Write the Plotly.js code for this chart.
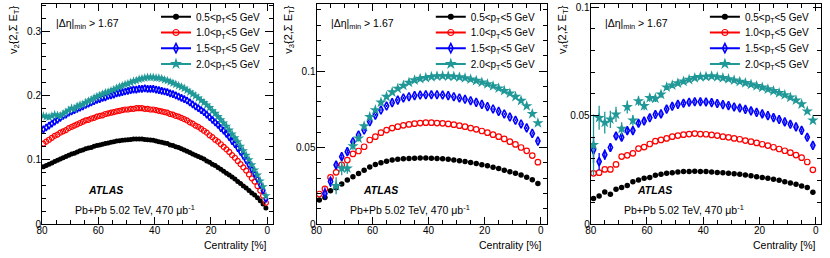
<!DOCTYPE html>
<html><head><meta charset="utf-8">
<script src="https://cdn.plot.ly/plotly-3.0.1.min.js"></script>
<style>html,body{margin:0;padding:0;background:#fff}#c{width:830px;height:258px}</style>
</head><body><div id="c"></div>
<script>
// ---------- DATA ----------
const seriesNames = ["0.5&lt;p<sub>T</sub>&lt;5 GeV","1.0&lt;p<sub>T</sub>&lt;5 GeV","1.5&lt;p<sub>T</sub>&lt;5 GeV","2.0&lt;p<sub>T</sub>&lt;5 GeV"];
// v2: 1% centrality bins
const centV2 = [79.5,78.5,77.5,76.5,75.5,74.5,73.5,72.5,71.5,70.5,69.5,68.5,67.5,66.5,65.5,64.5,63.5,62.5,61.5,60.5,
 59.5,58.5,57.5,56.5,55.5,54.5,53.5,52.5,51.5,50.5,49.5,48.5,47.5,46.5,45.5,44.5,43.5,42.5,41.5,40.5,
 39.5,38.5,37.5,36.5,35.5,34.5,33.5,32.5,31.5,30.5,29.5,28.5,27.5,26.5,25.5,24.5,23.5,22.5,21.5,20.5,
 19.5,18.5,17.5,16.5,15.5,14.5,13.5,12.5,11.5,10.5,9.5,8.5,7.5,6.5,5.5,4.5,3.5,2.5,1.5,0.5];
const v2_05 = [0.089,0.091,0.093,0.095,0.097,0.099,0.101,0.103,0.105,0.107,0.109,0.110,0.112,0.114,0.115,0.117,0.118,0.119,0.121,0.122,
 0.123,0.124,0.125,0.126,0.127,0.128,0.129,0.1295,0.130,0.1305,0.131,0.1315,0.132,0.132,0.132,0.132,0.1315,0.131,0.1305,0.130,
 0.129,0.128,0.127,0.126,0.125,0.123,0.122,0.120,0.119,0.117,0.115,0.113,0.111,0.109,0.107,0.105,0.103,0.101,0.098,0.096,
 0.093,0.091,0.088,0.085,0.082,0.079,0.076,0.073,0.070,0.066,0.063,0.059,0.056,0.052,0.048,0.045,0.041,0.036,0.031,0.025];
const v2_10 = [0.125,0.128,0.131,0.134,0.137,0.139,0.142,0.144,0.146,0.149,0.151,0.153,0.155,0.157,0.159,0.161,0.162,0.164,0.165,0.167,
 0.168,0.169,0.171,0.172,0.173,0.174,0.175,0.176,0.177,0.178,0.178,0.179,0.179,0.180,0.180,0.180,0.179,0.179,0.178,0.178,
 0.177,0.176,0.175,0.174,0.173,0.171,0.170,0.168,0.167,0.165,0.163,0.161,0.158,0.156,0.153,0.151,0.148,0.145,0.142,0.138,
 0.135,0.131,0.128,0.124,0.120,0.116,0.112,0.107,0.103,0.098,0.093,0.088,0.083,0.077,0.071,0.066,0.059,0.052,0.044,0.033];
const v2_15 = [0.147,0.150,0.153,0.156,0.159,0.162,0.165,0.168,0.170,0.173,0.175,0.177,0.179,0.181,0.183,0.185,0.187,0.189,0.191,0.193,
 0.194,0.196,0.197,0.199,0.200,0.201,0.203,0.204,0.205,0.206,0.207,0.208,0.209,0.209,0.210,0.210,0.211,0.210,0.210,0.210,
 0.209,0.208,0.207,0.206,0.205,0.203,0.202,0.200,0.198,0.196,0.194,0.192,0.189,0.186,0.183,0.180,0.177,0.174,0.170,0.166,
 0.162,0.158,0.154,0.149,0.145,0.140,0.135,0.129,0.124,0.118,0.112,0.106,0.099,0.092,0.085,0.078,0.070,0.061,0.052,0.039];
const v2_20 = [0.168,0.167,0.166,0.168,0.170,0.169,0.168,0.171,0.174,0.177,0.180,0.179,0.183,0.185,0.186,0.189,0.191,0.193,0.196,0.198,
 0.200,0.202,0.204,0.205,0.207,0.209,0.211,0.213,0.215,0.217,0.218,0.220,0.222,0.223,0.225,0.226,0.227,0.228,0.228,0.228,
 0.227,0.227,0.226,0.224,0.223,0.221,0.219,0.217,0.215,0.213,0.211,0.208,0.205,0.202,0.199,0.196,0.192,0.189,0.185,0.181,
 0.176,0.172,0.167,0.162,0.157,0.152,0.146,0.140,0.134,0.128,0.121,0.114,0.107,0.100,0.092,0.084,0.076,0.067,0.058,0.044];

// v3, v4: 2% centrality bins
const cent2 = [79,77,75,73,71,69,67,65,63,61,59,57,55,53,51,49,47,45,43,41,39,37,35,33,31,29,27,25,23,21,19,17,15,13,11,9,7,5,3,1];
const v3_05 = [0.0157,0.0174,0.0218,0.0237,0.0262,0.0287,0.0309,0.0330,0.0352,0.0373,0.0389,0.0401,0.0410,0.0418,0.0423,0.0426,0.0428,0.0430,0.0431,0.0431,
 0.0430,0.0428,0.0426,0.0423,0.0419,0.0414,0.0408,0.0402,0.0395,0.0388,0.0380,0.0371,0.0362,0.0352,0.0342,0.0332,0.0320,0.0306,0.0290,0.0265];
const v3_10 = [0.0196,0.0229,0.0305,0.0338,0.0386,0.0418,0.0458,0.0477,0.0505,0.0549,0.0571,0.0597,0.0614,0.0627,0.0636,0.0645,0.0651,0.0656,0.0660,0.0662,
 0.0662,0.0660,0.0658,0.0654,0.0649,0.0643,0.0636,0.0627,0.0619,0.0608,0.0597,0.0584,0.0571,0.0556,0.0538,0.0520,0.0500,0.0478,0.0447,0.0404];
const v3_15 = [null,0.0200,0.0277,0.0386,0.0440,0.0473,0.0538,0.0582,0.0614,0.0669,0.0712,0.0745,0.0771,0.0793,0.0810,0.0824,0.0832,0.0839,0.0843,0.0845,
 0.0845,0.0845,0.0843,0.0839,0.0832,0.0824,0.0815,0.0806,0.0795,0.0782,0.0767,0.0752,0.0736,0.0719,0.0699,0.0678,0.0654,0.0628,0.0592,0.0542];
const v3_15e = [0,0.004,0.0035,0.002,0.0015,0.0012,0.001,0.0009,0.0008,0.0007,0.0007,0.0007,0.0007,0.0007,0.0007,0.0007,0.0007,0.0007,0.0007,0.0007,
 0.0007,0.0007,0.0007,0.0007,0.0007,0.0007,0.0007,0.0007,0.0007,0.0007,0.0007,0.0007,0.0007,0.0007,0.0007,0.0007,0.0007,0.0007,0.0007,0.0007];
const v3_20 = [null,null,null,0.0250,0.0364,0.0364,0.0510,0.0560,0.0640,0.0700,0.0745,0.0795,0.0832,0.0862,0.0885,0.0905,0.0925,0.0940,0.0950,0.0956,
 0.0962,0.0966,0.0967,0.0966,0.0964,0.0960,0.0954,0.0946,0.0937,0.0926,0.0915,0.0902,0.0887,0.0871,0.0854,0.0832,0.0806,0.0771,0.0720,0.0660];
const v3_20e = [0,0,0,0.0055,0.0045,0.0035,0.0025,0.002,0.0015,0.0012,0.001,0.0008,0.0008,0.0008,0.0008,0.0008,0.0008,0.0008,0.0008,0.0008,
 0.0008,0.0008,0.0008,0.0008,0.0008,0.0008,0.0008,0.0008,0.0008,0.0008,0.0008,0.0008,0.0008,0.0008,0.0008,0.0008,0.0008,0.0008,0.0008,0.0008];

const v4_05 = [0.0118,0.0129,0.0148,0.0137,0.0160,0.0168,0.0178,0.0195,0.0203,0.0211,0.0215,0.0225,0.0229,0.0234,0.0237,0.0240,0.0242,0.0242,0.0243,0.0242,
 0.0242,0.0240,0.0238,0.0237,0.0234,0.0232,0.0229,0.0226,0.0223,0.0218,0.0215,0.0211,0.0206,0.0202,0.0195,0.0189,0.0183,0.0175,0.0168,0.0146];
const v4_10 = [0.0234,0.0237,0.0252,0.0252,0.0275,0.0311,0.0317,0.0326,0.0348,0.0355,0.0369,0.0382,0.0388,0.0395,0.0403,0.0408,0.0412,0.0415,0.0417,0.0415,
 0.0414,0.0411,0.0408,0.0403,0.0400,0.0395,0.0391,0.0385,0.0380,0.0374,0.0368,0.0362,0.0354,0.0346,0.0338,0.0329,0.0318,0.0306,0.0286,0.0250];
const v4_15 = [0.0342,0.0288,0.0320,0.0353,0.0406,0.0400,0.0431,0.0431,0.0465,0.0475,0.0490,0.0505,0.0508,0.0530,0.0543,0.0552,0.0557,0.0562,0.0564,0.0564,
 0.0563,0.0560,0.0556,0.0551,0.0546,0.0540,0.0535,0.0529,0.0522,0.0515,0.0508,0.0500,0.0491,0.0482,0.0471,0.0460,0.0448,0.0432,0.0400,0.0363];
const v4_15e = [0.006,0.004,0.0025,0.002,0.0015,0.0015,0.0012,0.0012,0.001,0.001,0.0008,0.0008,0.0008,0.0008,0.0008,0.0008,0.0008,0.0008,0.0008,0.0008,
 0.0008,0.0008,0.0008,0.0008,0.0008,0.0008,0.0008,0.0008,0.0008,0.0008,0.0008,0.0008,0.0008,0.0008,0.0008,0.0008,0.0008,0.0008,0.0008,0.0008];
const v4_20 = [0.0365,0.0490,0.0468,0.0483,0.0506,0.0440,0.0540,0.0478,0.0567,0.0545,0.0582,0.0579,0.0598,0.0631,0.0640,0.0650,0.0658,0.0666,0.0674,0.0679,
 0.0680,0.0682,0.0678,0.0674,0.0669,0.0663,0.0657,0.0651,0.0644,0.0637,0.0630,0.0622,0.0614,0.0605,0.0595,0.0584,0.0571,0.0553,0.0520,0.0478];
const v4_20e = [0.014,0.0055,0.005,0.004,0.0035,0.003,0.003,0.0025,0.0022,0.002,0.0018,0.0016,0.0015,0.0013,0.0012,0.0011,0.001,0.0009,0.0009,0.0009,
 0.0009,0.0009,0.0009,0.0009,0.0009,0.0009,0.0009,0.0009,0.0009,0.0009,0.0009,0.0009,0.0009,0.0009,0.0009,0.0009,0.0009,0.0009,0.0009,0.0009];

const yTitles = ["v<sub>2</sub>{2,Σ E<sub>T</sub>}","v<sub>3</sub>{2,Σ E<sub>T</sub>}","v<sub>4</sub>{2,Σ E<sub>T</sub>}"];
const xTitle = "Centrality [%]";
const etaLabel = "|Δη|<sub>min</sub> > 1.67";
const atlasLabel = "<b><i>ATLAS</i></b>";
const lumiLabel = "Pb+Pb 5.02 TeV, 470 μb<sup>-1</sup>";

// ---------- STYLE ----------
const W = 830, H = 258;
const FONT = "Liberation Sans, Arial, Helvetica, sans-serif";
const colors = ["#000000", "#ff0000", "#0000ff", "#209898"];
const symbols = ["circle", "circle-open", "diamond-tall-open", "star"];
const lineW = [0, 1.2, 1.6, 0];
const px = p => p / W, py = p => 1 - p / H;

const panels = [
  {l: 42,    r: 273.3, xr: [80, -2.13], yr: [0, 0.342],  dy: 0.1,  my: 0.02},
  {l: 316.5, r: 546.5, xr: [80, -2.07], yr: [0, 0.1438], dy: 0.05, my: 0.01},
  {l: 590.7, r: 820.7, xr: [80, -1.78], yr: [0, 0.1015], dy: 0.05, my: 0.01}
];
const offs = [0, 274.8, 548.9];
const bigSizes = [5.5, 5.5, 6, 8.5];
const smallSizes = [5, 5, 5, 7];

const traces = [];
function addData(pi, si, x, y, err, big) {
  const ax = pi === 0 ? "" : String(pi + 1);
  const sz = big ? bigSizes[si] : smallSizes[si];
  const t = {
    type: "scatter", mode: "markers", x: x, y: y,
    xaxis: "x" + ax, yaxis: "y" + ax, showlegend: false, cliponaxis: true,
    marker: {symbol: symbols[si], color: colors[si], size: sz,
             line: {color: colors[si], width: lineW[si]}}
  };
  if (err) t.error_y = {type: "data", array: err, visible: true, color: colors[si], thickness: 1.3, width: 0};
  traces.push(t);
}
addData(0, 0, centV2, v2_05); addData(0, 1, centV2, v2_10); addData(0, 2, centV2, v2_15); addData(0, 3, centV2, v2_20);
addData(1, 0, cent2, v3_05, null, true); addData(1, 1, cent2, v3_10, null, true);
addData(1, 2, cent2, v3_15, v3_15e, true); addData(1, 3, cent2, v3_20, v3_20e, true);
addData(2, 0, cent2, v4_05, null, true); addData(2, 1, cent2, v4_10, null, true);
addData(2, 2, cent2, v4_15, v4_15e, true); addData(2, 3, cent2, v4_20, v4_20e, true);

const rowY = [16.8, 32.5, 48.2, 63.9];
const layout = {
  width: W, height: H, margin: {l: 0, r: 0, t: 0, b: 0},
  paper_bgcolor: "#fff", plot_bgcolor: "#fff",
  font: {family: FONT, size: 10, color: "#000"},
  annotations: [], showlegend: true
};
let legIdx = 1;
for (let p = 0; p < 3; p++) {
  for (let s = 0; s < 4; s++) {
    const lid = legIdx === 1 ? "legend" : "legend" + legIdx;
    const ax = p === 0 ? "" : String(p + 1);
    traces.push({
      type: "scatter", mode: "lines+markers", x: [null], y: [null],
      xaxis: "x" + ax, yaxis: "y" + ax, name: seriesNames[s], legend: lid, showlegend: true,
      line: {color: colors[s], width: 2},
      marker: {symbol: symbols[s], color: colors[s], size: [6, 6, 6.5, 9][s],
               line: {color: colors[s], width: lineW[s]}}
    });
    layout[lid] = {
      x: px(156 + offs[p]), y: py(rowY[s]), xanchor: "left", yanchor: "middle",
      bgcolor: "rgba(0,0,0,0)", borderwidth: 0, font: {family: FONT, size: 10, color: "#000"},
      itemclick: false, itemdoubleclick: false, tracegroupgap: 0
    };
    legIdx++;
  }
}

panels.forEach((P, i) => {
  const ax = i === 0 ? "" : String(i + 1);
  const common = {
    showline: true, linecolor: "#000", linewidth: 1, mirror: "allticks",
    ticks: "inside", tickwidth: 1, tickcolor: "#000", showgrid: false, zeroline: false,
    tickfont: {family: FONT, size: 10, color: "#000"}, automargin: false, fixedrange: true
  };
  layout["xaxis" + ax] = Object.assign({}, common, {
    domain: [px(P.l), px(P.r)], range: P.xr, anchor: "y" + ax,
    tickmode: "linear", tick0: 0, dtick: 20, ticklen: 7, ticklabelstandoff: -3,
    minor: {dtick: 5, tick0: 0, ticklen: 4, ticks: "inside", tickcolor: "#000", showgrid: false}
  });
  layout["yaxis" + ax] = Object.assign({}, common, {
    domain: [py(224), py(4)], range: P.yr, anchor: "x" + ax,
    tickmode: "linear", tick0: 0, dtick: P.dy, ticklen: 8, ticklabelstandoff: -2,
    minor: {dtick: P.my, tick0: 0, ticklen: 4, ticks: "inside", tickcolor: "#000", showgrid: false}
  });
  const o = offs[i];
  const A = layout.annotations;
  A.push({xref: "paper", yref: "paper", x: px(54 + o), y: py(24), xanchor: "left", yanchor: "middle",
          text: etaLabel, showarrow: false, font: {size: 10.5}});
  A.push({xref: "paper", yref: "paper", x: px(86 + o), y: py(190), xanchor: "left", yanchor: "middle",
          text: atlasLabel, showarrow: false, font: {size: 10.5}});
  A.push({xref: "paper", yref: "paper", x: px(73 + o), y: py(209), xanchor: "left", yanchor: "middle",
          text: lumiLabel, showarrow: false, font: {size: 10.5}});
  A.push({xref: "paper", yref: "paper", x: px(13.5 + o), y: py(3), xanchor: "center", yanchor: "top",
          text: yTitles[i], textangle: -90, showarrow: false, font: {size: 11}});
  A.push({xref: "paper", yref: "paper", x: px(269 + o), y: py(245), xanchor: "right", yanchor: "middle",
          text: xTitle, showarrow: false, font: {size: 10.5}});
});

Plotly.newPlot("c", traces, layout, {staticPlot: true, displayModeBar: false});
</script></body></html>
